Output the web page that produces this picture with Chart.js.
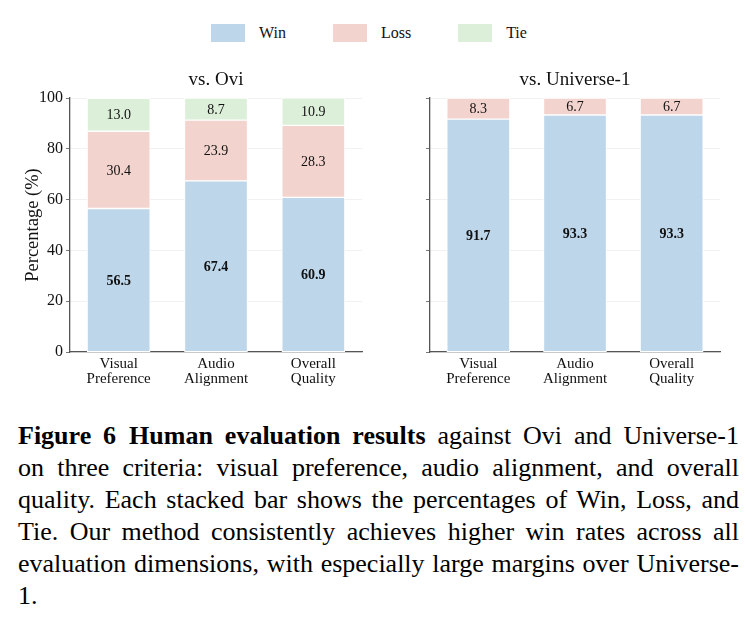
<!DOCTYPE html>
<html lang='en'>

<head>
    <meta charset='UTF-8'>
    <title>Human evaluation</title>
    <script src="https://cdn.jsdelivr.net/npm/chart.js"></script>
    <style>
        body { margin: 0; background: #fff; width: 746px; height: 632px; position: relative; overflow: hidden; font-family: 'Liberation Serif', 'Times New Roman', Times, serif; color: #111; }
        #legend { position: absolute; left: 211px; top: 24px; display: flex; align-items: center; font-size: 16px; }
        .box { width: 34px; height: 18px; margin-right: 14px; }
        .lab { margin-right: 47px; }
        #c1 { position: absolute; left: 0; top: 56px; }
        #c2 { position: absolute; left: 372px; top: 56px; }
        #caption { position: absolute; left: 18px; top: 420px; width: 721px; font-size: 26px; line-height: 32px; color: #000; }
        #caption div { white-space: nowrap; text-align: justify; text-align-last: justify; }
        #caption div.last { text-align-last: left; }
    </style>
</head>

<body>
    <div id="legend"></div>
    <canvas id="c1" width="372" height="344"></canvas>
    <canvas id="c2" width="374" height="344"></canvas>
    <div id="caption">
        <div><b>Figure 6&ensp;Human evaluation results</b> against Ovi and Universe-1</div>
        <div>on three criteria: visual preference, audio alignment, and overall</div>
        <div>quality. Each stacked bar shows the percentages of Win, Loss, and</div>
        <div>Tie. Our method consistently achieves higher win rates across all</div>
        <div>evaluation dimensions, with especially large margins over Universe-</div>
        <div class="last">1.</div>
    </div>

    <script>
        // data
        const categories = [['Visual', 'Preference'], ['Audio', 'Alignment'], ['Overall', 'Quality']];
        const series_names = ['Win', 'Loss', 'Tie'];
        const ovi_win = [56.5, 67.4, 60.9];
        const ovi_loss = [30.4, 23.9, 28.3];
        const ovi_tie = [13.0, 8.7, 10.9];
        const uni_win = [91.7, 93.3, 93.3];
        const uni_loss = [8.3, 6.7, 6.7];
        const uni_tie = [0, 0, 0];
        const y_ticks = [0, 20, 40, 60, 80, 100];

        const colors = ['#bdd6ea', '#f3d3ce', '#dcefd9'];
        const serif = "'Liberation Serif', 'Times New Roman', Times, serif";

        // html legend
        const legend = document.getElementById('legend');
        series_names.forEach((name, i) => {
            let box = document.createElement('div');
            box.className = 'box';
            box.style.background = colors[i];
            let lab = document.createElement('div');
            lab.className = 'lab';
            lab.textContent = name;
            legend.appendChild(box);
            legend.appendChild(lab);
        });

        // writes the value in the middle of each segment
        const valueLabels = {
            id: 'valueLabels',
            afterDatasetsDraw(chart) {
                const ctx = chart.ctx;
                ctx.save();
                ctx.textAlign = 'center';
                ctx.textBaseline = 'middle';
                ctx.fillStyle = '#111';
                chart.data.datasets.forEach((ds, i) => {
                    const meta = chart.getDatasetMeta(i);
                    meta.data.forEach((bar, j) => {
                        const v = ds.data[j];
                        if (!v) return;
                        ctx.font = (i === 0 ? 'bold ' : '') + '14px ' + serif;
                        ctx.fillText(v.toFixed(1), bar.x, (bar.y + bar.base) / 2 + 1);
                    });
                });
                ctx.restore();
            }
        };

        function make_chart(el, title, win, loss, tie, show_y) {
            const sets = [win, loss, tie].map((d, i) => ({
                label: series_names[i],
                data: d,
                xAxisID: 'x',
                yAxisID: 'y',
                backgroundColor: colors[i],
                borderColor: '#ffffff',
                borderWidth: 1,
                borderSkipped: false,
                barThickness: 63
            }));
            return new Chart(el, {
                type: 'bar',
                data: { labels: categories, datasets: sets },
                plugins: [valueLabels],
                options: {
                    responsive: false,
                    animation: false,
                    layout: { padding: { left: 0, right: show_y ? 10 : 26, top: 0, bottom: 0 } },
                    plugins: {
                        legend: { display: false },
                        tooltip: { enabled: false }
                    },
                    scales: {
                        // empty top axis, only used so the title sits over the plot area
                        top: {
                            type: 'category',
                            position: 'top',
                            labels: ['', '', ''],
                            grid: { display: false, drawTicks: false },
                            border: { display: false },
                            ticks: { display: false },
                            title: {
                                display: true,
                                text: title,
                                color: '#111',
                                font: { family: serif, size: 19 },
                                padding: { top: 13, bottom: 0 }
                            },
                            afterFit: (s) => { s.height = 42; }
                        },
                        x: {
                            stacked: true,
                            grid: { display: false, drawTicks: false },
                            border: { color: '#555', width: 1.3 },
                            ticks: {
                                color: '#111',
                                padding: 5,
                                maxRotation: 0,
                                font: { family: serif, size: 15, lineHeight: 1.0 }
                            },
                            afterFit: (s) => { s.height = 48; }
                        },
                        y: {
                            stacked: true,
                            min: 0,
                            max: 100,
                            afterBuildTicks: (s) => { s.ticks = y_ticks.map(v => ({ value: v })); },
                            grid: { color: '#eeeeee', lineWidth: 0.8, tickColor: '#555', tickLength: 4 },
                            border: { color: '#555', width: 1.3 },
                            ticks: {
                                color: '#111',
                                padding: 3,
                                font: { family: serif, size: 16 },
                                callback: (v) => show_y ? v : ''
                            },
                            title: {
                                display: show_y,
                                text: 'Percentage (%)',
                                color: '#111',
                                font: { family: serif, size: 18.5 },
                                padding: { top: 22, bottom: 0 }
                            },
                            afterFit: (s) => { s.width = show_y ? 70 : 58; }
                        }
                    }
                }
            });
        }

        make_chart(document.getElementById('c1'), 'vs. Ovi', ovi_win, ovi_loss, ovi_tie, true);
        make_chart(document.getElementById('c2'), 'vs. Universe-1', uni_win, uni_loss, uni_tie, false);
    </script>

</body>

</html>
